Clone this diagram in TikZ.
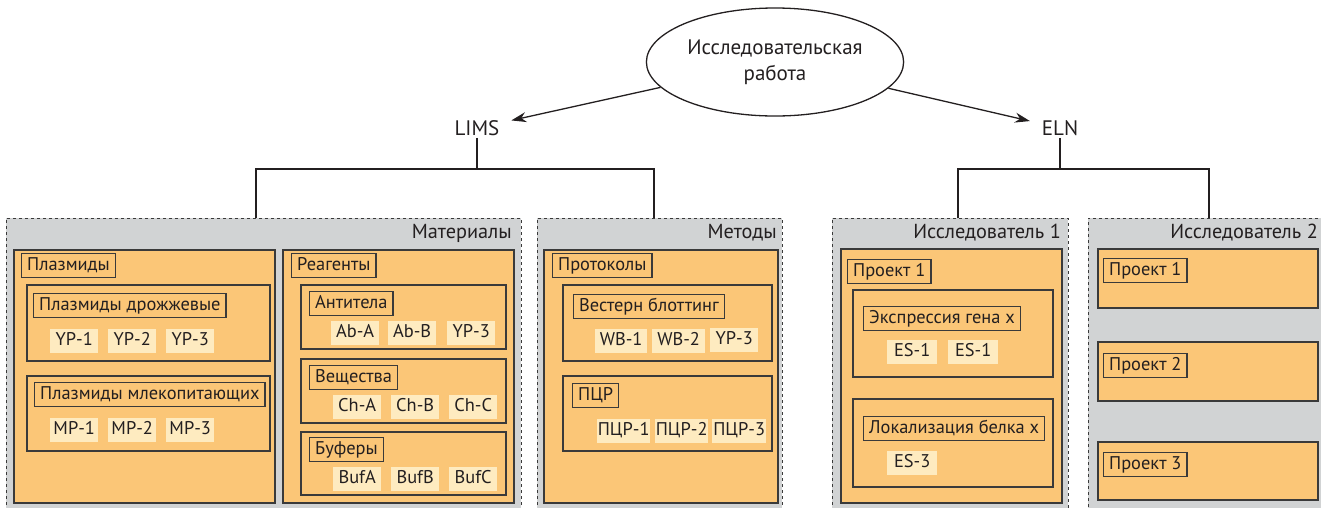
\documentclass[tikz,border=0pt]{standalone}
\usepackage{fontspec}
\setmainfont{PT Sans}
\usepackage{tikz}
\usetikzlibrary{arrows.meta, shapes.geometric}
\definecolor{ink}{HTML}{231F20}
\definecolor{edge}{HTML}{3A3A3A}
\definecolor{greyfill}{HTML}{D1D3D4}
\definecolor{orangefill}{HTML}{FBC677}
\definecolor{itemfill}{HTML}{FEEBC0}
\tikzset{
    txt/.style={font=\fontsize{18.4}{22}\selectfont, text=ink},
    big/.style={font=\fontsize{21}{26}\selectfont, text=ink},
    group/.style={draw=edge, dashed, line width=1pt, fill=greyfill, anchor=north west, inner sep=0pt, outer sep=0pt},
    panel/.style={draw=edge, line width=1.3pt, fill=orangefill, anchor=north west, inner sep=0pt, outer sep=0pt},
    tag/.style={txt, draw=edge, line width=1.3pt, fill=orangefill, anchor=north west, inner xsep=5.5pt, inner ysep=0pt, minimum height=24pt, text height=13pt, text depth=4pt},
    item/.style={txt, fill=itemfill, anchor=north west, inner sep=0pt, minimum width=48pt, minimum height=24pt, text height=13pt, text depth=4pt},
    head/.style={font=\fontsize{20.3}{24}\selectfont, text=ink, anchor=north east, inner sep=0pt},
    link/.style={draw=ink, line width=1.3pt}
}

\begin{document}
\begin{tikzpicture}[x=1pt, y=-1pt]
    \useasboundingbox (0,0) rectangle (1321,507);
    \clip (0,0) rectangle (1321,507);

    % Top of the tree
    \node[big, ellipse, draw=ink, line width=1.3pt, minimum width=230pt, minimum height=108pt, align=center] (work) at (775,62) {Исследовательская\\работа};
    \node[big, inner sep=2pt] (lims) at (477,128) {LIMS};
    \node[big, inner sep=2pt] (eln) at (1060,128) {ELN};
    \draw[link, -{Stealth[length=15pt, width=10pt]}, shorten >=10pt] (work) -- (lims);
    \draw[link, -{Stealth[length=15pt, width=10pt]}, shorten >=10pt] (work) -- (eln);

    % Grey groups
    \node[group, minimum width=515pt, minimum height=300pt] (mat) at (6,218) {};
    \node[group, minimum width=245pt, minimum height=300pt] (meth) at (537,218) {};
    \node[group, minimum width=236pt, minimum height=300pt] (res1) at (832,218) {};
    \node[group, minimum width=244pt, minimum height=300pt] (res2) at (1088,218) {};
    \node[head] (matlbl) at ([xshift=-9pt, yshift=-6pt]mat.north east) {Материалы};
    \node[head] (methlbl) at ([xshift=-5pt, yshift=-6pt]meth.north east) {Методы};
    \node[head] (res1lbl) at ([xshift=-7pt, yshift=-6pt]res1.north east) {Исследователь 1};
    \node[head] (res2lbl) at ([xshift=-14pt, yshift=-6pt]res2.north east) {Исследователь 2};

    % Tree lines
    \coordinate (limsfork) at (477,169);
    \coordinate (elnfork) at (1060,169);
    \draw[link] (lims.south) -- (limsfork);
    \draw[link] (limsfork) -| ([xshift=-7.5pt]mat.north);
    \draw[link] (limsfork) -| ([xshift=-5.5pt]meth.north);
    \draw[link] (eln.south) -- (elnfork);
    \draw[link] (elnfork) -| ([xshift=8pt]res1.north);
    \draw[link] (elnfork) -| ([xshift=-1pt]res2.north);

    % Materials
    \node[panel, minimum width=261pt, minimum height=253pt] (plasm) at (14,250) {};
    \node[tag] (plasmtag) at (21,253) {Плазмиды};
    \node[panel, minimum width=243pt, minimum height=76pt] (yeast) at (27,285) {};
    \node[tag] (yeasttag) at (33,293) {Плазмиды дрожжевые};
    \node[item] (yp1) at (50,329) {YP-1};
    \node[item] (yp2) at (108,329) {YP-2};
    \node[item] (yp3) at (166,329) {YP-3};
    \node[panel, minimum width=243pt, minimum height=75pt] (mamm) at (27,376) {};
    \node[tag] (mammtag) at (34,382) {Плазмиды млекопитающих};
    \node[item] (mp1) at (50,418) {MP-1};
    \node[item] (mp2) at (108,418) {MP-2};
    \node[item] (mp3) at (166,418) {MP-3};

    \node[panel, minimum width=231pt, minimum height=253pt] (reag) at (283,250) {};
    \node[tag] (reagtag) at (291,253) {Реагенты};
    \node[panel, minimum width=205pt, minimum height=64pt] (abs) at (301,285) {};
    \node[tag] (abstag) at (309,291) {Антитела};
    \node[item] (aba) at (331,321) {Ab-A};
    \node[item] (abb) at (388,321) {Ab-B};
    \node[item] (abc) at (447,321) {YP-3};
    \node[panel, minimum width=205pt, minimum height=64pt] (chem) at (301,359) {};
    \node[tag] (chemtag) at (309,365) {Вещества};
    \node[item] (cha) at (333,395) {Ch-A};
    \node[item] (chb) at (391,395) {Ch-B};
    \node[item] (chc) at (449,395) {Ch-C};
    \node[panel, minimum width=205pt, minimum height=63pt] (buf) at (301,432) {};
    \node[tag] (buftag) at (309,437) {Буферы};
    \node[item] (bufa) at (333,467) {BufA};
    \node[item] (bufb) at (391,467) {BufB};
    \node[item] (bufc) at (449,467) {BufC};

    % Methods
    \node[panel, minimum width=234pt, minimum height=253pt] (prot) at (544,250) {};
    \node[tag] (prottag) at (552,253) {Протоколы};
    \node[panel, minimum width=209pt, minimum height=76pt] (wb) at (563,285) {};
    \node[tag] (wbtag) at (573,294) {Вестерн блоттинг};
    \node[item, minimum width=52pt] (wb1) at (595,329) {WB-1};
    \node[item, minimum width=53pt] (wb2) at (652,329) {WB-2};
    \node[item] (wb3) at (710,328) {YP-3};
    \node[panel, minimum width=209pt, minimum height=75pt] (pcr) at (563,376) {};
    \node[tag] (pcrtag) at (572,383) {ПЦР};
    \node[item, minimum width=53pt] (pcr1) at (597,419) {ПЦР-1};
    \node[item, minimum width=53pt] (pcr2) at (655,419) {ПЦР-2};
    \node[item, minimum width=54pt] (pcr3) at (712,419) {ПЦР-3};

    % Researcher 1
    \node[panel, minimum width=221pt, minimum height=254pt] (proj) at (841,249) {};
    \node[tag] (projtag) at (847,259) {Проект 1};
    \node[panel, minimum width=200pt, minimum height=87pt] (expr) at (853,290) {};
    \node[tag] (exprtag) at (863,306) {Экспрессия гена x};
    \node[item, minimum width=50pt] (es1) at (887,340) {ES-1};
    \node[item, minimum width=50pt] (es2) at (948,340) {ES-1};
    \node[panel, minimum width=200pt, minimum height=88pt] (loc) at (853,399) {};
    \node[tag] (loctag) at (863,416) {Локализация белка x};
    \node[item, minimum width=50pt] (es3) at (887,451) {ES-3};

    % Researcher 2
    \node[panel, minimum width=220pt, minimum height=59pt] (rp1) at (1098,249) {};
    \node[tag] (rp1tag) at (1103,258) {Проект 1};
    \node[panel, minimum width=220pt, minimum height=59pt] (rp2) at (1098,342) {};
    \node[tag] (rp2tag) at (1103,353) {Проект 2};
    \node[panel, minimum width=220pt, minimum height=58pt] (rp3) at (1098,442) {};
    \node[tag] (rp3tag) at (1103,452) {Проект 3};
\end{tikzpicture}
\end{document}
